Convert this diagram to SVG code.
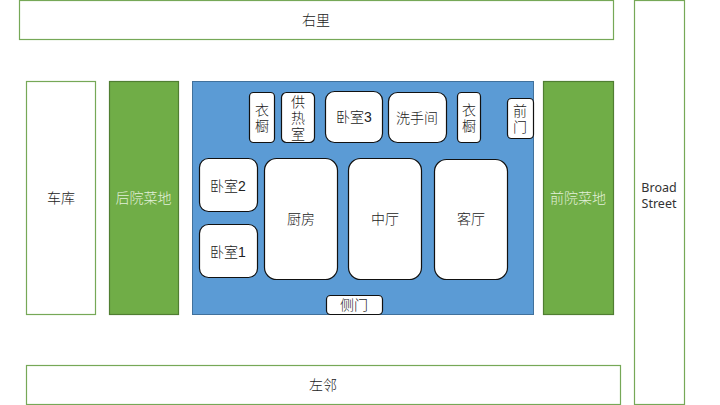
<svg xmlns="http://www.w3.org/2000/svg" width="720" height="405" viewBox="0 0 720 405">
<style>
text{font-family:"Liberation Sans","Noto Sans CJK SC",sans-serif;font-size:14px;font-weight:300;fill:#222;text-anchor:middle}
.en{font-family:"Noto Sans",sans-serif;font-size:12.500px;font-weight:400;fill:#333}
.o{fill:#fff;stroke:#76a857;stroke-width:1.200}
.g{fill:#70ad47;stroke:#507e32;stroke-width:1.200}
.b{fill:#5b9bd5;stroke:#41719c;stroke-width:1}
.r{fill:#fff;stroke:#111;stroke-width:1.200}
.l{fill:#e2f0d9}
</style>
<rect width="720" height="405" fill="#fff"/>
<g id="right-neighbour"><rect class="o" x="19.500" y="0.500" width="594" height="39"/><text x="316" y="25">右里</text></g>
<g id="broad-street"><rect class="o" x="634.500" y="0.500" width="50" height="404"/><text class="en" x="659" y="191.500">Broad<tspan x="659" dy="16">Street</tspan></text></g>
<g id="garage"><rect class="o" x="26.500" y="81.500" width="69" height="233"/><text x="61" y="203">车库</text></g>
<g id="back-yard"><rect class="g" x="109.500" y="81.500" width="69" height="233"/><text class="l" x="143.500" y="203">后院菜地</text></g>
<g id="house"><rect class="b" x="192.500" y="81.500" width="341" height="233"/></g>
<g id="front-yard"><rect class="g" x="543.500" y="81.500" width="70" height="233"/><text class="l" x="578" y="203">前院菜地</text></g>
<g id="left-neighbour"><rect class="o" x="26.500" y="365.500" width="594" height="39"/><text x="323" y="390">左邻</text></g>
<g id="closet-1"><rect class="r" x="249.500" y="92.500" width="25" height="50" rx="4"/><text x="262" y="115">衣<tspan x="262" dy="16">橱</tspan></text></g>
<g id="boiler"><rect class="r" x="281.500" y="92.500" width="33" height="50" rx="5"/><text x="298" y="107">供<tspan x="298" dy="16">热</tspan><tspan x="298" dy="16">室</tspan></text></g>
<g id="bedroom-3"><rect class="r" x="325.500" y="91.500" width="57" height="51" rx="9"/><text x="354" y="122">卧室3</text></g>
<g id="bathroom"><rect class="r" x="388.500" y="92.500" width="58" height="50" rx="9"/><text x="417" y="123">洗手间</text></g>
<g id="closet-2"><rect class="r" x="457.500" y="92.500" width="23" height="50" rx="4"/><text x="469" y="115">衣<tspan x="469" dy="16">橱</tspan></text></g>
<g id="front-door"><rect class="r" x="507.500" y="98.500" width="26" height="40" rx="4"/><text x="520" y="116">前<tspan x="520" dy="16">门</tspan></text></g>
<g id="bedroom-2"><rect class="r" x="199.500" y="158.500" width="58" height="53" rx="9"/><text x="228" y="191">卧室2</text></g>
<g id="bedroom-1"><rect class="r" x="199.500" y="224.500" width="58" height="53" rx="9"/><text x="228" y="257">卧室1</text></g>
<g id="kitchen"><rect class="r" x="264.500" y="158.500" width="73" height="121" rx="12"/><text x="301" y="224">厨房</text></g>
<g id="middle-hall"><rect class="r" x="348.500" y="158.500" width="73" height="121" rx="12"/><text x="385" y="224">中厅</text></g>
<g id="living-room"><rect class="r" x="434.500" y="159.500" width="73" height="120" rx="12"/><text x="471" y="224">客厅</text></g>
<g id="side-door"><rect class="r" x="326.500" y="295.500" width="56" height="19" rx="4"/><text x="354" y="310">侧门</text></g>
<g id="connectors"></g>
</svg>
